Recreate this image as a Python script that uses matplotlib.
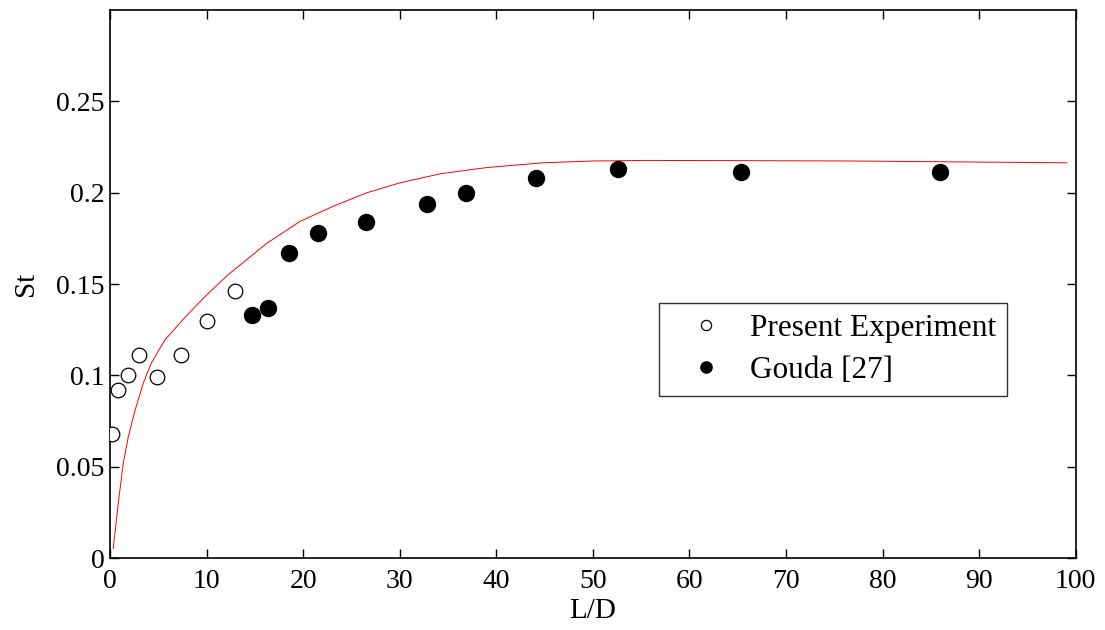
import matplotlib
matplotlib.use('Agg')
import matplotlib.pyplot as plt

# Present experiment (open circles)
exp_ld = [0.2, 0.8, 1.9, 3.0, 4.9, 7.4, 10.0, 12.9]
exp_st = [0.068, 0.092, 0.100, 0.111, 0.099, 0.111, 0.130, 0.146]

# Gouda [27] (filled circles)
gouda_ld = [14.7, 16.4, 18.5, 21.5, 26.5, 32.8, 36.9, 44.1, 52.6, 65.3, 85.9]
gouda_st = [0.133, 0.137, 0.167, 0.178, 0.184, 0.194, 0.200, 0.208, 0.213, 0.2116, 0.2112]

# red fitted curve
fit_ld = [0.34, 0.86, 1.38, 1.9, 2.6, 3.45, 4.3, 5.7, 7.8, 9.8, 12.2, 15.0,
          16.2, 19.7, 23.1, 26.6, 30.0, 34.2, 39.0, 44.8, 50.0, 55.4, 65.0,
          76.6, 88.0, 99.1]
fit_st = [0.0053, 0.030, 0.052, 0.0665, 0.081, 0.0958, 0.107, 0.1195, 0.132,
          0.143, 0.155, 0.167, 0.1722, 0.1844, 0.1926, 0.200, 0.2054, 0.2104,
          0.2138, 0.2164, 0.2174, 0.2177, 0.2176, 0.2174, 0.2169, 0.2164]

plt.rcParams['font.family'] = ['Liberation Serif', 'DejaVu Serif']

fig = plt.figure(figsize=(11.05, 6.3), dpi=100)
ax = fig.add_axes([0.0995, 0.114, 0.874, 0.870])

ax.plot(fit_ld, fit_st, color='red', linewidth=0.7, zorder=1)
ax.plot(exp_ld, exp_st, 'o', markersize=10.5, markerfacecolor='white',
        markeredgecolor='black', markeredgewidth=0.9, label='Present Experiment', zorder=3)
ax.plot(gouda_ld, gouda_st, 'o', markersize=11.5, color='black',
        label='Gouda [27]', zorder=3)

ax.set_xlim(0, 100)
ax.set_ylim(0, 0.3)
ax.set_xticks(range(0, 101, 10))
ax.set_yticks([0, 0.05, 0.1, 0.15, 0.2, 0.25])
ax.set_yticklabels(['0', '0.05', '0.1', '0.15', '0.2', '0.25'])

ax.tick_params(direction='in', top=True, right=True, length=6.5, width=1,
               labelsize=20)
ax.tick_params(axis='x', pad=8)
ax.tick_params(axis='y', pad=4)
for s in ax.spines.values():
    s.set_linewidth(1.2)

ax.set_xlabel('L/D', fontsize=21, labelpad=3)
ax.set_ylabel('St', fontsize=21, labelpad=12)

leg = ax.legend(loc='upper left', bbox_to_anchor=(0.569, 0.465),
                fontsize=22.5, frameon=True, fancybox=False,
                edgecolor='black', borderpad=0.35, handletextpad=0.25,
                labelspacing=0.42, handlelength=2.3, markerscale=0.7,
                borderaxespad=0)
leg.get_frame().set_linewidth(1.0)

fig.savefig('out.png', dpi=100, facecolor='white')
